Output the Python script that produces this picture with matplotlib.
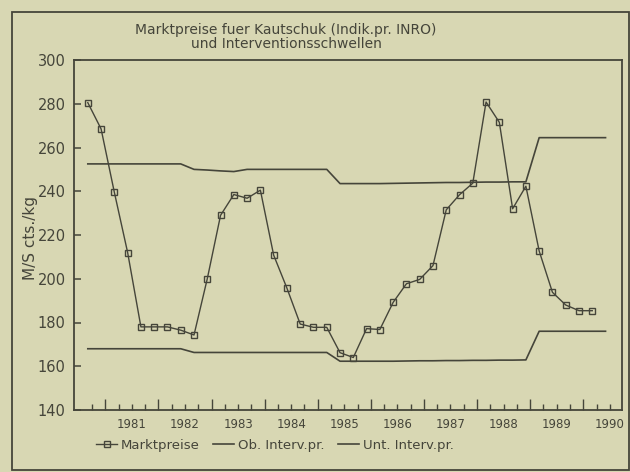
import numpy as np
import matplotlib
matplotlib.use("Agg")
import matplotlib.pyplot as plt
from matplotlib.patches import Rectangle

# ---- data ----
prices = [280.5, 268.5, 239.5, 212, 178, 178, 178, 176.5, 174.3, 200,
          229, 238.5, 236.8, 240.5, 210.8, 195.7, 179.3, 177.8, 177.8, 166.2,
          164, 177.2, 176.8, 189.2, 197.7, 199.7, 206, 231.5, 238.4, 243.7,
          280.8, 271.5, 232, 242.3, 212.7, 193.8, 188, 185.4, 185.4]
upper = [252.5, 252.5, 252.5, 252.5, 252.5, 252.5, 252.5, 252.5, 250, 249.7,
         249.3, 249, 250, 250, 250, 250, 250, 250, 250, 243.5,
         243.5, 243.5, 243.5, 243.6, 243.7, 243.8, 243.9, 244, 244, 244.1,
         244.2, 244.2, 244.3, 244.3, 264.5, 264.5, 264.5, 264.5, 264.5, 264.5]
lower = [168, 168, 168, 168, 168, 168, 168, 168, 166.3, 166.3,
         166.3, 166.3, 166.3, 166.3, 166.3, 166.3, 166.3, 166.3, 166.3, 162.3,
         162.3, 162.3, 162.3, 162.3, 162.4, 162.5, 162.5, 162.6, 162.6, 162.7,
         162.7, 162.8, 162.8, 162.9, 176, 176, 176, 176, 176, 176]
first_quarter = 1980.67
years = list(range(1981, 1991))
year_labels = [str(y) for y in years]
yticks = [140, 160, 180, 200, 220, 240, 260, 280, 300]
legend_labels = ["Marktpreise", "Ob. Interv.pr.", "Unt. Interv.pr."]
title = "Marktpreise fuer Kautschuk (Indik.pr. INRO)\nund Interventionsschwellen"
ylabel = "M/S cts./kg"

x_price = first_quarter + 0.25 * np.arange(len(prices))
x_thr = first_quarter + 0.25 * np.arange(len(upper))

# ---- style ----
bg = "#d8d7b3"
ink = "#45453a"
plt.rcParams['font.family'] = ['DejaVu Sans']

fig = plt.figure(figsize=(6.3, 4.72), dpi=100, facecolor=bg)
W, H = 630, 472
ax = fig.add_axes([74 / W, (H - 410) / H, (622 - 74) / W, (410 - 60) / H])
ax.set_facecolor(bg)

l1, = ax.plot(x_price, prices, color=ink, lw=1.0, marker='s', ms=4.5,
              mfc='none', mec=ink, mew=1.0, label=legend_labels[0])
l2, = ax.plot(x_thr, upper, color=ink, lw=1.2, label=legend_labels[1])
l3, = ax.plot(x_thr, lower, color=ink, lw=1.2, label=legend_labels[2])

ax.set_xlim(1980.41, 1990.73)
ax.set_ylim(140, 300)

for s in ax.spines.values():
    s.set_color(ink)
    s.set_linewidth(1.3)

ax.set_yticks(yticks)
ax.tick_params(axis='y', direction='in', length=5, width=1.1, color=ink,
               labelcolor=ink, labelsize=10.5, pad=6)
ax.set_xticks(years)
ax.set_xticks(np.arange(1980.75, 1990.6, 0.25), minor=True)
ax.tick_params(axis='x', which='major', direction='in', length=8, width=1.0,
               color=ink, labelbottom=False)
ax.tick_params(axis='x', which='minor', direction='in', length=4, width=1.0,
               color=ink)

sec = ax.secondary_xaxis('bottom')
sec.set_xticks([y + 0.5 for y in years], year_labels)
sec.tick_params(length=0, pad=6, labelsize=8.5, labelcolor=ink)
for s in sec.spines.values():
    s.set_visible(False)

ax.set_ylabel(ylabel, fontsize=11, color=ink)
ax.yaxis.set_label_coords(-0.066, 0.49)

fig.text(286 / W, 1 - 37 / H, title, ha='center', va='center',
         fontsize=10, color=ink, linespacing=0.95)

ax.legend(handles=[l1, l2, l3], loc='center', bbox_to_anchor=(275 / W, 1 - 445 / H),
          bbox_transform=fig.transFigure, ncol=3, frameon=False,
          fontsize=9.5, labelcolor=ink, handlelength=1.6, handletextpad=0.3,
          columnspacing=1.0, markerscale=0.9)

fig.patches.append(Rectangle((12 / W, 2 / H), (629 - 12) / W, (470 - 12) / H,
                             transform=fig.transFigure, fill=False,
                             edgecolor=ink, lw=1.3))

fig.savefig("out.png", dpi=100, facecolor=bg)
